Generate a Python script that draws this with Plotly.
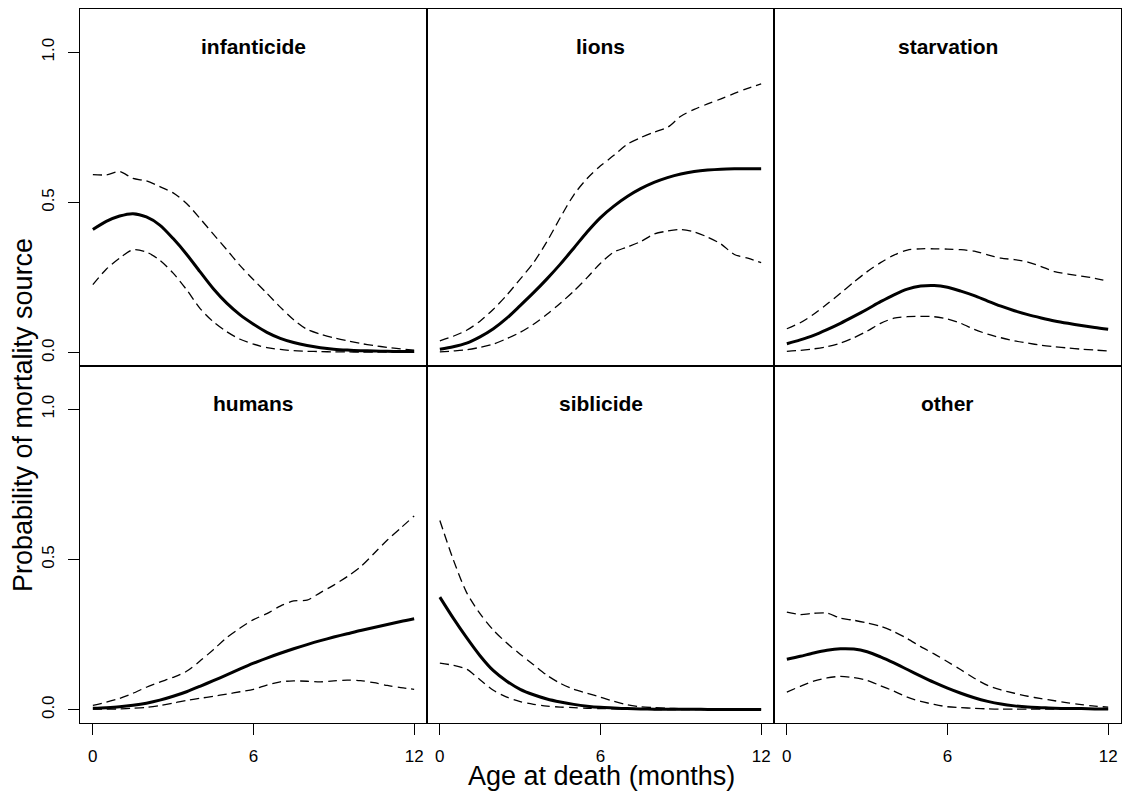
import plotly.graph_objects as go
from plotly.subplots import make_subplots

MONTHS = [0, 0.5, 1, 1.5, 2, 2.5, 3, 3.5, 4, 4.5, 5, 5.5, 6, 6.5, 7, 7.5, 8,
          8.5, 9, 9.5, 10, 10.5, 11, 11.5, 12]

PANELS = ["infanticide", "lions", "starvation", "humans", "siblicide", "other"]

infanticide_mean = [0.41, 0.437, 0.455, 0.463, 0.452, 0.425, 0.38, 0.328, 0.27, 0.213,
                    0.165, 0.126, 0.095, 0.068, 0.048, 0.034, 0.024, 0.017, 0.012, 0.009,
                    0.007, 0.006, 0.005, 0.004, 0.004]
infanticide_upper = [0.593, 0.592, 0.603, 0.58, 0.572, 0.553, 0.532, 0.497, 0.447, 0.395,
                     0.343, 0.29, 0.243, 0.198, 0.152, 0.11, 0.078, 0.062, 0.05, 0.04,
                     0.031, 0.024, 0.018, 0.013, 0.009]
infanticide_lower = [0.227, 0.278, 0.315, 0.343, 0.335, 0.308, 0.265, 0.21, 0.148, 0.103,
                     0.07, 0.045, 0.029, 0.017, 0.011, 0.007, 0.005, 0.004, 0.003, 0.003,
                     0.002, 0.002, 0.002, 0.002, 0.002]

lions_mean = [0.012, 0.02, 0.032, 0.053, 0.08, 0.115, 0.157, 0.2, 0.246, 0.295,
              0.348, 0.402, 0.45, 0.488, 0.52, 0.546, 0.567, 0.583, 0.595, 0.603,
              0.608, 0.611, 0.612, 0.612, 0.612]
lions_upper = [0.04, 0.055, 0.075, 0.105, 0.145, 0.192, 0.245, 0.3, 0.37, 0.45,
               0.525, 0.58, 0.622, 0.657, 0.694, 0.716, 0.734, 0.75, 0.787, 0.81,
               0.828, 0.845, 0.863, 0.88, 0.895]
lions_lower = [0.003, 0.006, 0.01, 0.018, 0.029, 0.047, 0.068, 0.095, 0.128, 0.165,
               0.205, 0.25, 0.298, 0.335, 0.352, 0.37, 0.395, 0.405, 0.41, 0.402,
               0.385, 0.362, 0.327, 0.315, 0.30]

starvation_mean = [0.03, 0.043, 0.058, 0.077, 0.098, 0.121, 0.145, 0.17, 0.193, 0.212,
                   0.222, 0.224, 0.218, 0.205, 0.19, 0.172, 0.155, 0.14, 0.127, 0.116,
                   0.106, 0.098, 0.091, 0.084, 0.078]
starvation_upper = [0.08, 0.1, 0.128, 0.162, 0.198, 0.235, 0.27, 0.3, 0.325, 0.342,
                    0.346, 0.346, 0.345, 0.343, 0.338, 0.326, 0.315, 0.31, 0.302, 0.287,
                    0.27, 0.262, 0.255, 0.248, 0.238]
starvation_lower = [0.005, 0.008, 0.013, 0.02, 0.032, 0.05, 0.072, 0.098, 0.115, 0.12,
                    0.121, 0.12, 0.112, 0.098, 0.078, 0.062, 0.05, 0.04, 0.032, 0.025,
                    0.02, 0.016, 0.012, 0.009, 0.006]

humans_mean = [0.005, 0.007, 0.01, 0.015, 0.022, 0.032, 0.045, 0.06, 0.078, 0.097,
               0.116, 0.136, 0.155, 0.172, 0.188, 0.203, 0.217, 0.23, 0.242, 0.253,
               0.264, 0.274, 0.284, 0.294, 0.303]
humans_upper = [0.015, 0.025, 0.038, 0.055, 0.075, 0.092, 0.108, 0.128, 0.162, 0.2,
                0.24, 0.272, 0.3, 0.32, 0.345, 0.362, 0.365, 0.39, 0.415, 0.443,
                0.476, 0.52, 0.565, 0.605, 0.645]
humans_lower = [0.002, 0.002, 0.003, 0.005, 0.008, 0.014, 0.022, 0.031, 0.038, 0.045,
                0.052, 0.06, 0.068, 0.082, 0.093, 0.096, 0.095, 0.093, 0.096, 0.099,
                0.097, 0.09, 0.081, 0.074, 0.068]

siblicide_mean = [0.375, 0.305, 0.24, 0.18, 0.13, 0.095, 0.068, 0.05, 0.036, 0.026,
                  0.018, 0.012, 0.008, 0.006, 0.004, 0.003, 0.002, 0.002, 0.002, 0.002,
                  0.001, 0.001, 0.001, 0.001, 0.001]
siblicide_upper = [0.63, 0.5, 0.39, 0.32, 0.265, 0.222, 0.185, 0.15, 0.115, 0.088,
                   0.068, 0.055, 0.042, 0.028, 0.017, 0.01, 0.007, 0.005, 0.004, 0.003,
                   0.003, 0.002, 0.002, 0.002, 0.002]
siblicide_lower = [0.155, 0.148, 0.135, 0.1, 0.065, 0.042, 0.027, 0.018, 0.012, 0.009,
                   0.007, 0.005, 0.004, 0.003, 0.002, 0.002, 0.001, 0.001, 0.001, 0.001,
                   0.001, 0.001, 0.001, 0.001, 0.001]

other_mean = [0.168, 0.178, 0.189, 0.198, 0.203, 0.202, 0.193, 0.176, 0.156, 0.134,
              0.112, 0.091, 0.072, 0.055, 0.04, 0.028, 0.019, 0.013, 0.009, 0.007,
              0.005, 0.004, 0.004, 0.003, 0.003]
other_upper = [0.325, 0.317, 0.321, 0.322, 0.305, 0.298, 0.289, 0.278, 0.26, 0.237,
               0.21, 0.186, 0.16, 0.133, 0.105, 0.081, 0.066, 0.055, 0.045, 0.037,
               0.03, 0.023, 0.017, 0.012, 0.009]
other_lower = [0.059, 0.078, 0.095, 0.106, 0.111, 0.107, 0.098, 0.08, 0.062, 0.042,
               0.028, 0.018, 0.01, 0.007, 0.005, 0.003, 0.002, 0.002, 0.002, 0.002,
               0.002, 0.002, 0.002, 0.002, 0.002]

SERIES = {
    "infanticide": (infanticide_mean, infanticide_upper, infanticide_lower),
    "lions": (lions_mean, lions_upper, lions_lower),
    "starvation": (starvation_mean, starvation_upper, starvation_lower),
    "humans": (humans_mean, humans_upper, humans_lower),
    "siblicide": (siblicide_mean, siblicide_upper, siblicide_lower),
    "other": (other_mean, other_upper, other_lower),
}

X_TICKS = [0, 6, 12]
X_TICKTEXT = ["0", "6", "12"]
Y_TICKS = [0, 0.5, 1.0]
Y_TICKTEXT = ["0.0", "0.5", "1.0"]

FONT = "Liberation Sans, Arial, Helvetica, sans-serif"

W, H = 1122, 796
ML, MR, MT, MB = 80, 1, 9, 73

fig = make_subplots(rows=2, cols=3, horizontal_spacing=0, vertical_spacing=0)

for i, name in enumerate(PANELS):
    r, c = i // 3 + 1, i % 3 + 1
    mean, upper, lower = SERIES[name]
    for vals, dash, width in ((upper, "9px,5px", 1.3), (lower, "9px,5px", 1.3), (mean, "solid", 3)):
        fig.add_trace(go.Scatter(x=MONTHS, y=vals, mode="lines",
                                 line=dict(color="black", width=width, dash=dash,
                                           shape="spline", smoothing=0.8),
                                 showlegend=False, hoverinfo="skip"), row=r, col=c)
    sfx = "" if i == 0 else str(i + 1)
    fig.add_annotation(text="<b>%s</b>" % name, x=0.5, y=0.896, xref="x%s domain" % sfx,
                       yref="y%s domain" % sfx, showarrow=False,
                       xanchor="center", yanchor="middle",
                       font=dict(family=FONT, size=21, color="black"))

for r in (1, 2):
    for c in (1, 2, 3):
        fig.update_xaxes(range=[-0.48, 12.48], showline=True, mirror=True, linecolor="black",
                         linewidth=1, showgrid=False, zeroline=False,
                         tickvals=X_TICKS, ticktext=X_TICKTEXT,
                         ticks="outside" if r == 2 else "", ticklen=11, tickwidth=1,
                         tickcolor="black", showticklabels=(r == 2),
                         ticklabelstandoff=7,
                         tickfont=dict(family=FONT, size=17, color="black"),
                         row=r, col=c)
        fig.update_yaxes(range=[-0.044, 1.144], showline=True, mirror=True, linecolor="black",
                         linewidth=1, showgrid=False, zeroline=False,
                         tickvals=Y_TICKS, ticktext=Y_TICKTEXT,
                         ticks="outside" if c == 1 else "", ticklen=11, tickwidth=1,
                         tickcolor="black", showticklabels=(c == 1), tickangle=-90,
                         ticklabelstandoff=7,
                         tickfont=dict(family=FONT, size=17, color="black"),
                         row=r, col=c)

pw = W - ML - MR
ph = H - MT - MB
fig.add_annotation(text="Age at death (months)", xref="paper", yref="paper",
                   x=(601 - ML) / pw, y=(H - MB - 776) / ph, showarrow=False,
                   xanchor="center", yanchor="middle",
                   font=dict(family=FONT, size=27, color="black"))
fig.add_annotation(text="Probability of mortality source", xref="paper", yref="paper",
                   x=(23 - ML) / pw, y=(H - MB - 415) / ph, showarrow=False,
                   textangle=-90, xanchor="center", yanchor="middle",
                   font=dict(family=FONT, size=27, color="black"))

fig.update_layout(width=W, height=H, margin=dict(l=ML, r=MR, t=MT, b=MB),
                  paper_bgcolor="white", plot_bgcolor="white",
                  font=dict(family=FONT, color="black"))

# remove the browser's default page margin so the figure fills the window exactly
fig.write_html("out.html",
               config={"displayModeBar": False},
               post_script="document.documentElement.style.overflow='hidden';"
                           "document.body.style.margin='0';"
                           "document.body.style.overflow='hidden';")
